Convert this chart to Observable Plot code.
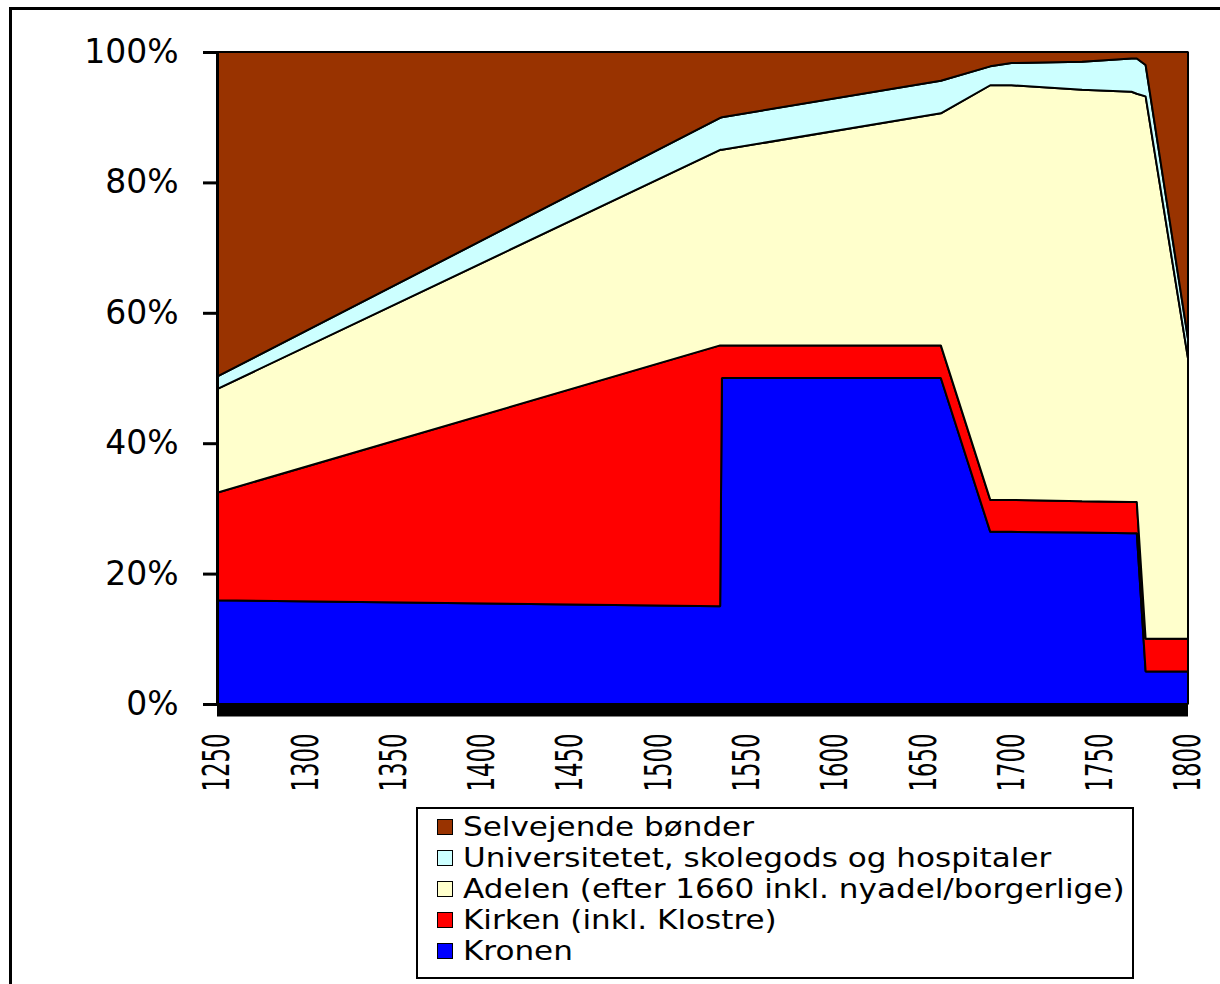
<!DOCTYPE html>
<html>
<head>
<meta charset="utf-8">
<script src="https://cdn.jsdelivr.net/npm/d3@7"></script>
<script src="https://cdn.jsdelivr.net/npm/@observablehq/plot@0.6"></script>
<style>
  html, body { margin: 0; padding: 0; background: #fff; overflow: hidden; width: 1220px; height: 984px; }
  #frame { position: absolute; left: 9px; top: 7px; width: 1400px; height: 1100px; border: 3px solid #000; pointer-events: none; }
  #chart { position: absolute; left: 0; top: 0; }
  #legend { position: absolute; left: 416px; top: 807px; width: 714px; height: 166px; border: 2px solid #000; background: #fff;
            font-family: "DejaVu Sans", sans-serif; font-size: 27px; padding-top: 2px; box-sizing: content-box; }
  .row { height: 31px; line-height: 31px; display: flex; align-items: center; padding-left: 19px; white-space: nowrap; }
  .sw { width: 14px; height: 14px; border: 1px solid #000; margin-right: 10px; flex: none; }
  .lab { display: inline-block; transform-origin: left center; transform: scaleX(1.15); }
</style>
</head>
<body>
<div id="chart"></div>
<div id="legend"></div>
<div id="frame"></div>
<script>
const years = [1250, 1535, 1536, 1660, 1688, 1700, 1740, 1768, 1771, 1776, 1800];
// Shares (%) per owner group
const kronen      = [15.9, 15.0, 50, 50, 26.4, 26.4, 26.3, 26.2, 26.2, 5, 5];
const kirken      = [16.5, 40, 5, 5, 4.9, 4.9, 4.8, 4.8, 4.8, 5, 5];
const adelen      = [15.9, 30, 30, 35.6, 63.6, 63.6, 63.1, 62.9, 62.6, 83.2, 43];
const universitet = [1.9, 4.9, 5, 5, 2.9, 3.4, 4.3, 5.1, 5.4, 4.8, 3];
const selvejende  = [49.8, 10.1, 10, 4.4, 2.2, 1.7, 1.5, 1.0, 1.0, 2.0, 44];

// Series names (stack order bottom -> top) and colours
const seriesNames = [
  "Kronen",
  "Kirken (inkl. Klostre)",
  "Adelen (efter 1660 inkl. nyadel/borgerlige)",
  "Universitetet, skolegods og hospitaler",
  "Selvejende bønder"
];
const seriesValues = [kronen, kirken, adelen, universitet, selvejende];
const seriesColors = ["#0000FF", "#FF0000", "#FFFFCC", "#CCFFFF", "#993300"];

const xTicks = [1250, 1300, 1350, 1400, 1450, 1500, 1550, 1600, 1650, 1700, 1750, 1800];
const yTicks = [0, 20, 40, 60, 80, 100];

const data = [];
seriesNames.forEach((name, i) => {
  years.forEach((yr, j) => data.push({year: yr, share: seriesValues[i][j], series: name}));
});

const plot = Plot.plot({
  width: 1220,
  height: 800,
  marginLeft: 217,
  marginRight: 32,
  marginTop: 52,
  marginBottom: 96,
  style: {background: "transparent", color: "#000"},
  x: {domain: [1250, 1800], axis: null},
  y: {domain: [0, 100], axis: null},
  color: {domain: seriesNames, range: seriesColors},
  marks: [
    Plot.areaY(data, {x: "year", y: "share", z: "series", fill: "series", order: seriesNames,
      stroke: "#000", strokeWidth: 2, strokeLinejoin: "miter"}),
    Plot.ruleX([1250], {stroke: "#000", strokeWidth: 3}),
    Plot.ruleY([0], {stroke: "#000", strokeWidth: 12, dy: 6}),
    Plot.axisY({ticks: yTicks, tickFormat: d => d + "%", tickSize: 14, tickPadding: 25,
      fontSize: 33, fontFamily: "DejaVu Sans", strokeWidth: 3, label: null}),
    Plot.axisX({ticks: xTicks, tickFormat: d => String(d), tickRotate: -90, tickSize: 0, tickPadding: 29,
      fontSize: 37, fontFamily: "DejaVu Sans", label: null})
  ]
});
document.getElementById("chart").appendChild(plot);

// compress rotated x labels as in the reference
d3.select(plot).selectAll('g[aria-label="x-axis tick label"] text')
  .attr("textLength", 58).attr("lengthAdjust", "spacingAndGlyphs");

// Legend (top to bottom: reverse stack order)
const legend = d3.select("#legend");
seriesNames.slice().reverse().forEach((name) => {
  const i = seriesNames.indexOf(name);
  const row = legend.append("div").attr("class", "row");
  row.append("div").attr("class", "sw").style("background", seriesColors[i]);
  row.append("span").attr("class", "lab").text(name);
});
</script>
</body>
</html>
